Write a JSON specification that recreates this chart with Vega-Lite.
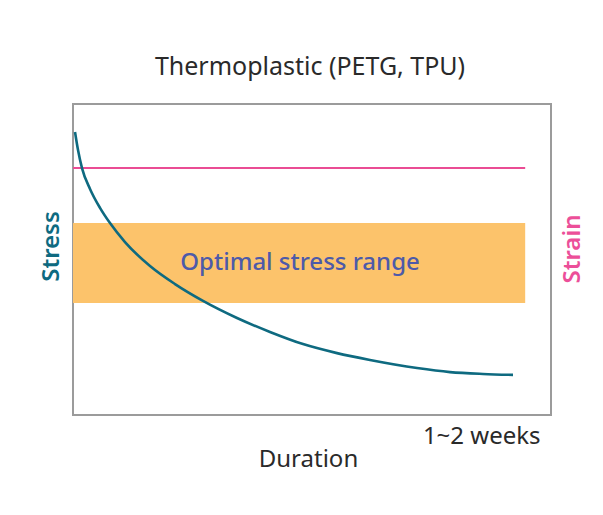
{
  "$schema": "https://vega.github.io/schema/vega-lite/v6.json",
  "width": 478,
  "height": 311,
  "autosize": {"type": "none"},
  "padding": {"left": 73, "top": 104, "right": 52, "bottom": 100},
  "background": "white",
  "config": {
    "view": {"stroke": "#9b9b9b", "strokeWidth": 2},
    "font": "Noto Sans"
  },
  "title": {
    "text": "Thermoplastic (PETG, TPU)",
    "fontSize": 25,
    "fontWeight": "normal",
    "color": "#2a2a2a",
    "anchor": "middle",
    "frame": "group",
    "offset": 4,
    "baseline": "alphabetic",
    "dx": -2
  },
  "datasets": {
    "band": [{"x0": 0, "x1": 94.6, "y0": 36.0, "y1": 61.7}],
    "strain": [{"x0": 0, "x1": 94.6, "y": 79.4}],
    "curve": [
      {"x": 0.42, "y": 91.0},
      {"x": 1.05, "y": 85.2},
      {"x": 1.88, "y": 79.4},
      {"x": 3.56, "y": 72.7},
      {"x": 5.65, "y": 66.6},
      {"x": 7.74, "y": 61.7},
      {"x": 10.88, "y": 55.6},
      {"x": 16.11, "y": 47.9},
      {"x": 21.34, "y": 42.1},
      {"x": 27.2, "y": 36.7},
      {"x": 34.31, "y": 31.2},
      {"x": 41.21, "y": 26.7},
      {"x": 48.12, "y": 22.8},
      {"x": 55.23, "y": 19.9},
      {"x": 62.13, "y": 17.7},
      {"x": 71.97, "y": 15.1},
      {"x": 78.87, "y": 13.8},
      {"x": 85.77, "y": 13.2},
      {"x": 92.05, "y": 12.9}
    ],
    "label": [{"x": 47.5, "y": 48.9, "text": "Optimal stress range"}]
  },
  "resolve": {"axis": {"y": "independent"}},
  "layer": [
    {
      "data": {"name": "band"},
      "mark": {"type": "rect", "color": "#fcc36b"},
      "encoding": {
        "x": {
          "field": "x0", "type": "quantitative",
          "scale": {"domain": [0, 100], "nice": false, "zero": false},
          "axis": {
            "title": "Duration",
            "values": [85.4],
            "labelExpr": "'1~2 weeks'",
            "labelFontSize": 24,
            "labelColor": "#2a2a2a",
            "labelBaseline": "alphabetic",
            "labelPadding": 28,
            "labelFlush": false,
            "labelOverlap": false,
            "ticks": false,
            "tickSize": 0,
            "domain": false,
            "grid": false,
            "titleFontSize": 24,
            "titleFontWeight": "normal",
            "titleColor": "#2a2a2a",
            "titleX": 235,
            "titleY": 51,
            "titleAlign": "center",
            "titleBaseline": "alphabetic"
          }
        },
        "x2": {"field": "x1"},
        "y": {
          "field": "y0", "type": "quantitative",
          "scale": {"domain": [0, 100], "nice": false, "zero": false},
          "axis": {
            "title": "Stress",
            "orient": "left",
            "labels": false,
            "ticks": false,
            "domain": false,
            "grid": false,
            "titleFontSize": 24,
            "titleFontWeight": 600,
            "titleColor": "#0e6a80",
            "titleAngle": 270,
            "titleX": -22,
            "titleY": 142,
            "titleAlign": "center",
            "titleBaseline": "middle"
          }
        },
        "y2": {"field": "y1"}
      }
    },
    {
      "data": {"name": "strain"},
      "mark": {"type": "rule", "color": "#ea4c94", "strokeWidth": 2},
      "encoding": {
        "x": {"field": "x0", "type": "quantitative"},
        "x2": {"field": "x1"},
        "y": {
          "field": "y", "type": "quantitative",
          "axis": {
            "title": "Strain",
            "orient": "right",
            "labels": false,
            "ticks": false,
            "domain": false,
            "grid": false,
            "titleFontSize": 24,
            "titleFontWeight": 600,
            "titleColor": "#ec4f99",
            "titleAngle": 270,
            "titleX": 21,
            "titleY": 144.5,
            "titleAlign": "center",
            "titleBaseline": "middle"
          }
        }
      }
    },
    {
      "data": {"name": "curve"},
      "mark": {"type": "line", "color": "#0e6a80", "strokeWidth": 2.6, "interpolate": "monotone"},
      "encoding": {
        "x": {"field": "x", "type": "quantitative"},
        "y": {"field": "y", "type": "quantitative", "axis": null}
      }
    },
    {
      "data": {"name": "label"},
      "mark": {"type": "text", "fontSize": 24, "color": "#4d5aa9", "fontWeight": 500, "align": "center", "baseline": "middle"},
      "encoding": {
        "x": {"field": "x", "type": "quantitative"},
        "y": {"field": "y", "type": "quantitative", "axis": null},
        "text": {"field": "text"}
      }
    }
  ]
}
